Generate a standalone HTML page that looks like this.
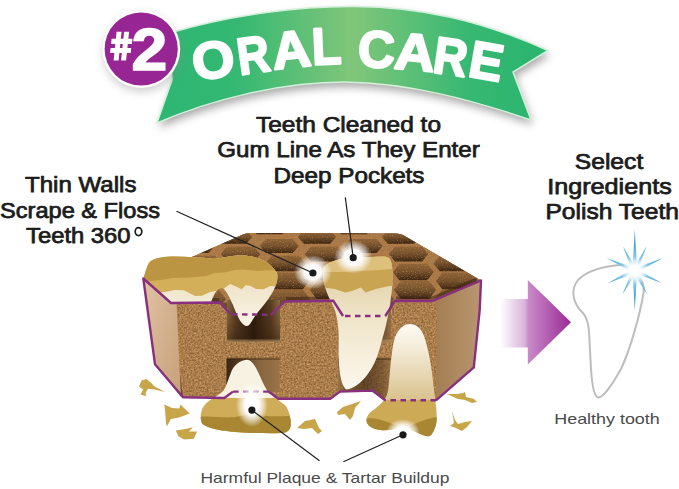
<!DOCTYPE html>
<html><head><meta charset="utf-8">
<style>
html,body{margin:0;padding:0;background:#fff;width:679px;height:489px;overflow:hidden}
svg{display:block}
.t{font-family:"Liberation Sans",sans-serif;font-weight:normal;fill:#1c1c1c;stroke:#1c1c1c;stroke-width:0.75;font-size:21.5px}
.s{font-family:"Liberation Sans",sans-serif;font-weight:normal;fill:#4a4a4a;font-size:14.5px}
.bn{font-family:"Liberation Sans",sans-serif;font-weight:bold;fill:#fff;font-size:52px}
</style></head>
<body>
<svg width="679" height="489" viewBox="0 0 679 489">
<defs>
  <linearGradient id="gBan" x1="157" y1="0" x2="548" y2="0" gradientUnits="userSpaceOnUse">
    <stop offset="0" stop-color="#2db673"/>
    <stop offset="0.2" stop-color="#34b872"/>
    <stop offset="0.5" stop-color="#80c67a"/>
    <stop offset="0.8" stop-color="#36b872"/>
    <stop offset="1" stop-color="#2ab46e"/>
  </linearGradient>
  <filter id="fShadow" x="-20%" y="-20%" width="140%" height="160%">
    <feGaussianBlur stdDeviation="4"/>
  </filter>
  <filter id="fBlur2" x="-50%" y="-50%" width="200%" height="200%">
    <feGaussianBlur stdDeviation="2"/>
  </filter>
  <filter id="fBlur1" x="-50%" y="-50%" width="200%" height="200%">
    <feGaussianBlur stdDeviation="1"/>
  </filter>
  <filter id="fGlow" x="-100%" y="-100%" width="300%" height="300%">
    <feGaussianBlur stdDeviation="5"/>
  </filter>
  <filter id="texFront" x="0" y="0" width="100%" height="100%" color-interpolation-filters="sRGB">
    <feTurbulence type="fractalNoise" baseFrequency="0.55" numOctaves="3" seed="4"/>
    <feColorMatrix type="matrix" values="0.45 0 0 0 0.442  0.38 0 0 0 0.30  0.3 0 0 0 0.144  0 0 0 0 1"/>
  </filter>
  <filter id="speckLight" x="0" y="0" width="100%" height="100%" color-interpolation-filters="sRGB">
    <feTurbulence type="fractalNoise" baseFrequency="0.8" numOctaves="2" seed="11"/>
    <feColorMatrix type="matrix" values="0 0 0 0 0.85  0 0 0 0 0.68  0 0 0 0 0.45  3 0 0 0 -1.7"/>
  </filter>
  <linearGradient id="gArrow" x1="500" y1="0" x2="571" y2="0" gradientUnits="userSpaceOnUse">
    <stop offset="0" stop-color="#ffffff"/>
    <stop offset="0.35" stop-color="#d9b3d9"/>
    <stop offset="0.4" stop-color="#c88ac8"/>
    <stop offset="1" stop-color="#9a2a96"/>
  </linearGradient>
  <linearGradient id="gRoot" x1="0" y1="0" x2="0" y2="1">
    <stop offset="0" stop-color="#dcc796"/>
    <stop offset="0.45" stop-color="#efe4c8"/>
    <stop offset="1" stop-color="#fdf9ef"/>
  </linearGradient>
  <linearGradient id="gRootUp" x1="0" y1="0" x2="0" y2="1">
    <stop offset="0" stop-color="#fefcf6"/>
    <stop offset="0.35" stop-color="#f4ecd8"/>
    <stop offset="1" stop-color="#d8c08a"/>
  </linearGradient>
  <linearGradient id="gCream" x1="0" y1="0" x2="0" y2="1">
    <stop offset="0" stop-color="#e6d6b0"/>
    <stop offset="1" stop-color="#fbf6ea"/>
  </linearGradient>
  <linearGradient id="gLeftFace" x1="0" y1="0" x2="1" y2="1">
    <stop offset="0" stop-color="#e0c2a4"/>
    <stop offset="1" stop-color="#c6a078"/>
  </linearGradient>
  <linearGradient id="gRightFace" x1="0" y1="0" x2="1" y2="0">
    <stop offset="0" stop-color="#a37c50"/>
    <stop offset="1" stop-color="#b89670"/>
  </linearGradient>
  <radialGradient id="gWhiteGlow">
    <stop offset="0" stop-color="#ffffff" stop-opacity="1"/>
    <stop offset="0.45" stop-color="#ffffff" stop-opacity="0.97"/>
    <stop offset="0.72" stop-color="#ffffff" stop-opacity="0.55"/>
    <stop offset="1" stop-color="#ffffff" stop-opacity="0"/>
  </radialGradient>
  <radialGradient id="gSpark">
    <stop offset="0" stop-color="#ffffff" stop-opacity="1"/>
    <stop offset="0.4" stop-color="#ffffff" stop-opacity="0.9"/>
    <stop offset="1" stop-color="#ffffff" stop-opacity="0"/>
  </radialGradient>
  <linearGradient id="gRay" x1="0" y1="0" x2="1" y2="0">
    <stop offset="0" stop-color="#8fd0ee"/>
    <stop offset="1" stop-color="#2f96cc"/>
  </linearGradient>
</defs>
<defs><linearGradient id="gCell" x1="0" y1="0" x2="0" y2="1"><stop offset="0" stop-color="#916437"/><stop offset="0.5" stop-color="#74502c"/><stop offset="1" stop-color="#3c2410"/></linearGradient></defs><g id="banner">
  <path d="M157 123 L172 80 L170 33 C230 15 300 6 355 6.5 C420 7 480 20 548 50.5 L513 72 L531 120 C472 100 410 83 345 82 C280 82 210 100 157 123 Z" fill="#707070" opacity="0.6" transform="translate(2,5)" filter="url(#fShadow)"/>
  <path d="M157 123 L172 80 L170 33 C230 15 300 6 355 6.5 C420 7 480 20 548 50.5 L513 72 L531 120 C472 100 410 83 345 82 C280 82 210 100 157 123 Z" fill="url(#gBan)" stroke="#d2f0da" stroke-width="1.5"/>
  <g class="bn" stroke="#fff" stroke-width="2.2" stroke-linejoin="round">
    <text transform="translate(213,59) rotate(-9) scale(1.05,1)" text-anchor="middle" dy="19">O</text>
    <text transform="translate(253,54) rotate(-8) scale(0.86,1)" text-anchor="middle" dy="19">R</text>
    <text transform="translate(291,48.5) rotate(-6) scale(1.03,1)" text-anchor="middle" dy="19">A</text>
    <text transform="translate(326.5,45) rotate(-2.5) scale(0.93,1)" text-anchor="middle" dy="19">L</text>
    <text transform="translate(376.5,48.5) rotate(2) scale(0.98,1)" text-anchor="middle" dy="19">C</text>
    <text transform="translate(415,51) rotate(5) scale(1.08,1)" text-anchor="middle" dy="19">A</text>
    <text transform="translate(451,55.75) rotate(8) scale(0.9,1)" text-anchor="middle" dy="19">R</text>
    <text transform="translate(486.5,60.25) rotate(10) scale(0.97,1)" text-anchor="middle" dy="19">E</text>
  </g>
  <circle cx="142" cy="53" r="39" fill="#888" opacity="0.4" filter="url(#fShadow)"/>
  <circle cx="141.2" cy="49" r="39" fill="#ffffff"/>
  <circle cx="141.2" cy="49" r="36.6" fill="#982594"/>
  <g fill="#fff">
    <path d="M116.6 31.8 L121.6 31.8 L118.6 60.4 L113.6 60.4 Z"/>
    <path d="M124.1 31.8 L129.1 31.8 L126.1 60.4 L121.1 60.4 Z"/>
    <path d="M111.6 38.8 L132.4 38.8 L131.9 43.9 L111.1 43.9 Z"/>
    <path d="M110.6 48.1 L131.2 48.1 L130.7 53 L110.1 53 Z"/>
  </g>
  <text transform="translate(149.3,70) scale(1.07,1)" class="bn" style="font-size:60px" stroke="#fff" stroke-width="1.6" text-anchor="middle">2</text>
</g>
<text class="t" x="348.5" y="131.6" text-anchor="middle" textLength="185" lengthAdjust="spacingAndGlyphs">Teeth Cleaned to</text>
<text class="t" x="348.5" y="157.4" text-anchor="middle" textLength="262.5" lengthAdjust="spacingAndGlyphs">Gum Line As They Enter</text>
<text class="t" x="349" y="183.2" text-anchor="middle" textLength="151" lengthAdjust="spacingAndGlyphs">Deep Pockets</text>
<text class="t" x="80.75" y="192" text-anchor="middle" textLength="111.5" lengthAdjust="spacingAndGlyphs">Thin Walls</text>
<text class="t" x="80" y="217.5" text-anchor="middle" textLength="160" lengthAdjust="spacingAndGlyphs">Scrape &amp; Floss</text>
<text class="t" x="78.3" y="242.8" text-anchor="middle" textLength="104.5" lengthAdjust="spacingAndGlyphs">Teeth 360</text>
<ellipse cx="138.5" cy="231.6" rx="3.3" ry="4" fill="none" stroke="#1c1c1c" stroke-width="1.7"/>
<text class="t" x="609" y="168.5" text-anchor="middle" textLength="68.5" lengthAdjust="spacingAndGlyphs">Select</text>
<text class="t" x="609.5" y="194.4" text-anchor="middle" textLength="124.5" lengthAdjust="spacingAndGlyphs">Ingredients</text>
<text class="t" x="612.2" y="219.4" text-anchor="middle" textLength="133.5" lengthAdjust="spacingAndGlyphs">Polish Teeth</text>
<text class="s" x="607" y="423.7" text-anchor="middle" textLength="105.5" lengthAdjust="spacingAndGlyphs">Healthy tooth</text>
<text class="s" x="325" y="483.4" text-anchor="middle" textLength="249" lengthAdjust="spacingAndGlyphs">Harmful Plaque &amp; Tartar Buildup</text>
<g id="chew">
  <!-- base hull -->
  <path d="M143.3 278.5 L155 364.2 L183 397.2 L224.3 398 L233 391.6 L268.6 391.6 L278.3 398.7 L330.2 398.7 L340 391.6 L372.3 390.6 L385.3 400.3 L437 400.3 L473.8 367.4 L481 280.4 L403 235 Q400 233.5 396 233.5 L250 233 Q246 233 243 234.5 Z" fill="#6e4c2c"/>
  <!-- top surface -->
  <path id="topSurf" d="M143.3 278.5 L171 303 L432.5 301 L481 280.4 L403 235 Q400 233.5 396 233.5 L250 233 Q246 233 243 234.5 Z" fill="#aa7846"/>
  <clipPath id="cTop"><path d="M143.3 278.5 L171 303 L432.5 301 L481 280.4 L403 235 Q400 233.5 396 233.5 L250 233 Q246 233 243 234.5 Z"/></clipPath>
  <g clip-path="url(#cTop)">
    <path d="M129.9 237.0 L136.0 230.3 L162.0 230.3 L168.1 237.0 L162.0 243.7 L136.0 243.7Z" fill="url(#gCell)"/>
<path d="M136.8 254.0 L143.1 246.6 L170.0 246.6 L176.3 254.0 L170.0 261.4 L143.1 261.4Z" fill="url(#gCell)"/>
<path d="M141.0 272.0 L147.5 263.8 L175.2 263.8 L181.8 272.0 L175.2 280.2 L147.5 280.2Z" fill="url(#gCell)"/>
<path d="M142.0 290.0 L148.7 281.0 L177.3 281.0 L184.0 290.0 L177.3 299.0 L148.7 299.0Z" fill="url(#gCell)"/>
<path d="M213.9 237.0 L220.0 230.3 L246.0 230.3 L252.1 237.0 L246.0 243.7 L220.0 243.7Z" fill="url(#gCell)"/>
<path d="M220.8 254.0 L227.1 246.6 L254.0 246.6 L260.3 254.0 L254.0 261.4 L227.1 261.4Z" fill="url(#gCell)"/>
<path d="M225.0 272.0 L231.5 263.8 L259.2 263.8 L265.8 272.0 L259.2 280.2 L231.5 280.2Z" fill="url(#gCell)"/>
<path d="M226.0 290.0 L232.7 281.0 L261.3 281.0 L268.0 290.0 L261.3 299.0 L232.7 299.0Z" fill="url(#gCell)"/>
<path d="M297.9 237.0 L304.0 230.3 L330.0 230.3 L336.1 237.0 L330.0 243.7 L304.0 243.7Z" fill="url(#gCell)"/>
<path d="M304.8 254.0 L311.1 246.6 L338.0 246.6 L344.3 254.0 L338.0 261.4 L311.1 261.4Z" fill="url(#gCell)"/>
<path d="M309.0 272.0 L315.5 263.8 L343.2 263.8 L349.8 272.0 L343.2 280.2 L315.5 280.2Z" fill="url(#gCell)"/>
<path d="M310.0 290.0 L316.7 281.0 L345.3 281.0 L352.0 290.0 L345.3 299.0 L316.7 299.0Z" fill="url(#gCell)"/>
<path d="M381.9 237.0 L388.0 230.3 L414.0 230.3 L420.1 237.0 L414.0 243.7 L388.0 243.7Z" fill="url(#gCell)"/>
<path d="M388.8 254.0 L395.1 246.6 L422.0 246.6 L428.3 254.0 L422.0 261.4 L395.1 261.4Z" fill="url(#gCell)"/>
<path d="M393.0 272.0 L399.5 263.8 L427.2 263.8 L433.8 272.0 L427.2 280.2 L399.5 280.2Z" fill="url(#gCell)"/>
<path d="M394.0 290.0 L400.7 281.0 L429.3 281.0 L436.0 290.0 L429.3 299.0 L400.7 299.0Z" fill="url(#gCell)"/>
<path d="M465.9 237.0 L472.0 230.3 L498.0 230.3 L504.1 237.0 L498.0 243.7 L472.0 243.7Z" fill="url(#gCell)"/>
<path d="M472.8 254.0 L479.1 246.6 L506.0 246.6 L512.3 254.0 L506.0 261.4 L479.1 261.4Z" fill="url(#gCell)"/>
<path d="M477.0 272.0 L483.5 263.8 L511.2 263.8 L517.8 272.0 L511.2 280.2 L483.5 280.2Z" fill="url(#gCell)"/>
<path d="M478.0 290.0 L484.7 281.0 L513.3 281.0 L520.0 290.0 L513.3 299.0 L484.7 299.0Z" fill="url(#gCell)"/>
<path d="M83.0 228.0 L89.0 221.7 L114.6 221.7 L120.7 228.0 L114.6 234.3 L89.0 234.3Z" fill="url(#gCell)"/>
<path d="M91.9 246.0 L98.1 238.9 L124.6 238.9 L130.8 246.0 L124.6 253.1 L98.1 253.1Z" fill="url(#gCell)"/>
<path d="M97.4 263.5 L103.9 255.7 L131.1 255.7 L137.6 263.5 L131.1 271.3 L103.9 271.3Z" fill="url(#gCell)"/>
<path d="M99.9 281.0 L106.5 272.4 L134.7 272.4 L141.3 281.0 L134.7 289.6 L106.5 289.6Z" fill="url(#gCell)"/>
<path d="M99.3 299.0 L106.1 289.6 L135.1 289.6 L141.9 299.0 L135.1 308.4 L106.1 308.4Z" fill="url(#gCell)"/>
<path d="M167.0 228.0 L173.0 221.7 L198.6 221.7 L204.7 228.0 L198.6 234.3 L173.0 234.3Z" fill="url(#gCell)"/>
<path d="M175.9 246.0 L182.1 238.9 L208.6 238.9 L214.8 246.0 L208.6 253.1 L182.1 253.1Z" fill="url(#gCell)"/>
<path d="M181.4 263.5 L187.9 255.7 L215.1 255.7 L221.6 263.5 L215.1 271.3 L187.9 271.3Z" fill="url(#gCell)"/>
<path d="M183.9 281.0 L190.5 272.4 L218.7 272.4 L225.3 281.0 L218.7 289.6 L190.5 289.6Z" fill="url(#gCell)"/>
<path d="M183.3 299.0 L190.1 289.6 L219.1 289.6 L225.9 299.0 L219.1 308.4 L190.1 308.4Z" fill="url(#gCell)"/>
<path d="M251.0 228.0 L257.0 221.7 L282.6 221.7 L288.7 228.0 L282.6 234.3 L257.0 234.3Z" fill="url(#gCell)"/>
<path d="M259.9 246.0 L266.1 238.9 L292.6 238.9 L298.8 246.0 L292.6 253.1 L266.1 253.1Z" fill="url(#gCell)"/>
<path d="M265.4 263.5 L271.9 255.7 L299.1 255.7 L305.6 263.5 L299.1 271.3 L271.9 271.3Z" fill="url(#gCell)"/>
<path d="M267.9 281.0 L274.5 272.4 L302.7 272.4 L309.3 281.0 L302.7 289.6 L274.5 289.6Z" fill="url(#gCell)"/>
<path d="M267.3 299.0 L274.1 289.6 L303.1 289.6 L309.9 299.0 L303.1 308.4 L274.1 308.4Z" fill="url(#gCell)"/>
<path d="M335.0 228.0 L341.0 221.7 L366.6 221.7 L372.7 228.0 L366.6 234.3 L341.0 234.3Z" fill="url(#gCell)"/>
<path d="M343.9 246.0 L350.1 238.9 L376.6 238.9 L382.8 246.0 L376.6 253.1 L350.1 253.1Z" fill="url(#gCell)"/>
<path d="M349.4 263.5 L355.9 255.7 L383.1 255.7 L389.6 263.5 L383.1 271.3 L355.9 271.3Z" fill="url(#gCell)"/>
<path d="M351.9 281.0 L358.5 272.4 L386.7 272.4 L393.3 281.0 L386.7 289.6 L358.5 289.6Z" fill="url(#gCell)"/>
<path d="M351.3 299.0 L358.1 289.6 L387.1 289.6 L393.9 299.0 L387.1 308.4 L358.1 308.4Z" fill="url(#gCell)"/>
<path d="M419.0 228.0 L425.0 221.7 L450.6 221.7 L456.7 228.0 L450.6 234.3 L425.0 234.3Z" fill="url(#gCell)"/>
<path d="M427.9 246.0 L434.1 238.9 L460.6 238.9 L466.8 246.0 L460.6 253.1 L434.1 253.1Z" fill="url(#gCell)"/>
<path d="M433.4 263.5 L439.9 255.7 L467.1 255.7 L473.6 263.5 L467.1 271.3 L439.9 271.3Z" fill="url(#gCell)"/>
<path d="M435.9 281.0 L442.5 272.4 L470.7 272.4 L477.3 281.0 L470.7 289.6 L442.5 289.6Z" fill="url(#gCell)"/>
<path d="M435.3 299.0 L442.1 289.6 L471.1 289.6 L477.9 299.0 L471.1 308.4 L442.1 308.4Z" fill="url(#gCell)"/>
    <rect x="140" y="230" width="345" height="75" filter="url(#speckLight)" opacity="0.5"/>
  </g>
  <!-- front face -->
  <clipPath id="cFront"><path d="M171 303 L220 302.5 L230 314 L271 314.8 L284.8 301.5 L333.4 300.8 L343 316 L385.3 316 L395 300.8 L437 301 L437 400.3 L385.3 400.3 L372.3 390.6 L340 391.6 L330.2 398.7 L278.3 398.7 L268.6 391.6 L233 391.6 L224.3 398 L183 397.2 Z"/></clipPath>
  <g clip-path="url(#cFront)">
    <rect x="171" y="300" width="270" height="102" filter="url(#texFront)"/>
  </g>
  <!-- slots -->
  <linearGradient id="gSlotH" x1="0" y1="0" x2="1" y2="0">
    <stop offset="0" stop-color="#8c6a42"/><stop offset="0.16" stop-color="#5e4024"/><stop offset="0.5" stop-color="#2c1b0c"/><stop offset="0.84" stop-color="#5e4024"/><stop offset="1" stop-color="#8c6a42"/>
  </linearGradient>
  <linearGradient id="gSlotV" x1="0" y1="0" x2="0" y2="1">
    <stop offset="0" stop-color="#2a1a0a" stop-opacity="0"/><stop offset="0.55" stop-color="#2a1a0a" stop-opacity="0.2"/><stop offset="1" stop-color="#2a1a0a" stop-opacity="0.55"/>
  </linearGradient>
  <linearGradient id="gSlot2" x1="0" y1="0" x2="1" y2="0">
    <stop offset="0" stop-color="#3a2614"/><stop offset="0.3" stop-color="#5a3e22"/><stop offset="0.6" stop-color="#86643e"/><stop offset="1" stop-color="#9a7448"/>
  </linearGradient>
  <rect x="227" y="300" width="53" height="41.5" fill="url(#gSlotH)"/>
  <rect x="227" y="300" width="53" height="41.5" fill="url(#gSlotV)"/>
  <rect x="226.5" y="358.5" width="53" height="33.5" fill="url(#gSlot2)"/>
  <rect x="338" y="300" width="53" height="42" fill="url(#gSlotH)" opacity="0.75"/>
  <path d="M338 358.5 L391 358.5 L391 400 L385.3 400.3 L372.3 390.6 L340 391.6 L338 392 Z" fill="url(#gSlotH)" opacity="0.6"/>
<g stroke="#3a2414" stroke-width="3.2" opacity="0.55" fill="none">
  <path d="M173 300 L219 299.6"/>
  <path d="M286 298.6 L332 298"/>
  <path d="M396 298 L432 298.2 L477 279"/>
</g>
<g fill="#caa478" opacity="0.45">
  <rect x="227" y="339.5" width="53" height="2.5"/>
  <rect x="338" y="339.5" width="53" height="2.5"/>
</g>
<g fill="#2e1c0c" opacity="0.35">
  <rect x="227" y="357.5" width="53" height="2.5"/>
  <rect x="338" y="357.5" width="53" height="2.5"/>
</g>
  <!-- left face -->
  <path d="M143.3 278.5 L171 303 L176.5 303 L181 397.2 L155 364.2 Z" fill="url(#gLeftFace)"/>
  <!-- right face -->
  <path d="M432.5 301 L481 280.4 L479.7 310 L473.8 367.4 L436 400.3 L437 301 Z" fill="url(#gRightFace)"/>
</g>
<g id="teeth">
  <!-- tooth 1 -->
  <clipPath id="cT1"><path d="M143.3 278.5 C145 274 146 268 149 263 C152 259 160 257 172 256.6 C185 256.5 200 257.5 213 258.7 C222 259 228 256 233 256 C250 254 268 258 277 273 C280 285 268 300 258 312 C252 320 250 326 247 326 C242 326 238 318 233 305 C229 296 225 288 221.7 288 C217 288 213 296 211 302.5 L171 303 Z"/></clipPath>
  <g clip-path="url(#cT1)">
    <rect x="140" y="250" width="145" height="80" fill="url(#gCream)"/>
    <path d="M140 250 L285 250 L285 287 L270 286 L263.7 289.2 L256 289 L250.4 285.9 L246 285 L241.6 289.2 L235 285.9 L230 284 L222 290 L210 292 L201.9 295.8 L195 296 L184 290.3 L175 290 L162 292.5 L140 290 Z" fill="#d4af5a"/>
    <path d="M140 250 L285 250 L285 271 L272.5 270 L258 271 L243.8 269.5 L235 270 L224 272.5 L215 273 L206 276 L190 277.5 L173 278 L160 280 L140 282 Z" fill="#bb9542"/>
  </g>
  <!-- tooth 2 -->
  <clipPath id="cT2"><path d="M322.7 271.7 C322 262 340 258 357.6 257.5 C372 257 385 255 389 258 C394 263 393 285 391 297 C389 315 384 335 378 354 C373 370 360 388 346.5 389.5 C339 385 338.6 360 338.6 344.8 C339 330 338 315 332 303.5 C327 294 323 284 322.7 271.7 Z"/></clipPath>
  <g clip-path="url(#cT2)">
    <rect x="315" y="250" width="85" height="145" fill="url(#gRoot)"/>
    <path d="M315 250 L400 250 L400 286 L389 286 L376 289 L365.6 292.4 L360.8 287.6 L352 291 L345 292.4 L335 289 L322.7 287.6 L315 287 Z" fill="#c9a452"/>
    <path d="M315 250 L400 250 L400 268 L380 270 L360 271 L340 272 L315 272 Z" fill="#dcc07c"/>
  </g>
  <!-- tooth 3 -->
  <clipPath id="cT3"><path d="M247 359.7 C251 359.7 255 365 258.3 372.6 C261 378 263 384 267.6 391.2 C272 396 280 401 285.2 405.2 C289 410 291 418 290.8 425 C290.5 430 287 433 281.6 433 C270 433.5 260 433 250.2 433 C230 432 210 430 202.4 424 C199 418 201 408 206 403.4 C212 398 220 395 224 390 C227 385 229 377 232 370 C236 363 242 359.7 247 359.7 Z"/></clipPath>
  <g clip-path="url(#cT3)">
    <rect x="195" y="355" width="100" height="85" fill="#f8f2e2"/>
    <path d="M195 398 L300 398 L300 440 L195 440 Z" fill="#cfac58"/>
    <path d="M195 418 C210 414 225 420 240 416 C255 412 270 420 300 414 L300 440 L195 440 Z" fill="#a98632"/>
  </g>
  <!-- tooth 4 -->
  <clipPath id="cT4"><path d="M409.9 323.9 C416 324 421 328 424 336 C429 350 432 370 433.5 385 C435 398 437 410 436.7 420 C436 428 432 436 429 436.3 C424 436 418 433 406 427.4 C398 428 390 431 380 430 C372 429 366 425 366.5 419.7 C367 414 372 411 376 408 C382 403 387 398 388.2 390 C390 375 391 350 395 337 C399 328 404 324 409.9 323.9 Z"/></clipPath>
  <g clip-path="url(#cT4)">
    <rect x="360" y="320" width="85" height="82" fill="url(#gRootUp)"/>
    <rect x="360" y="400" width="85" height="40" fill="#cdaa56"/>
    <path d="M360 420 C375 414 390 424 405 428 C415 424 425 418 445 416 L445 440 L360 440 Z" fill="#a98632"/>
  </g>
</g>
<g fill="none" stroke="#88307f" stroke-width="2.4" stroke-linejoin="round">
  <path d="M230 314 L220 302.5 L171 303 L143.3 278.5 L155 364.2 L183 397.2 L224.3 398 L233 391.6"/>
  <path d="M271 314.8 L284.8 301.5 L333.4 300.8 L343 316"/>
  <path d="M385.3 316 L395 300.8 L432.5 301 L481 280.4 L479.7 310 L473.8 367.4 L436 400.3"/>
  <path d="M385.3 400.3 L372.3 390.6 L340 391.6 L330.2 398.7 L278.3 398.7 L268.6 391.6"/>
  <g stroke-dasharray="5.5 4.5" stroke-width="2.4">
    <path d="M232 314.2 L271 314.8"/>
    <path d="M345 316 L385.3 316"/>
    <path d="M436 400.3 L385.3 400.3"/>
    <path d="M268.6 391.6 L233 391.6"/>
  </g>
</g>
<g fill="#c9a54a">
  <path d="M141.5 380.6 L146.4 379 L150.5 382.3 L154.5 386.4 L165.2 392.1 L154.5 389.6 L148 388.8 L145.5 392.9 L146.4 396.2 L140.6 394.5 L143.1 389.6 L139 386.4 Z"/>
  <path d="M164.4 404.4 L172 408 L179.1 408.5 L180.7 404.4 L184 408 L189.7 413.4 L179.1 417.5 L170.9 419.1 L166.8 426.5 L166 422.4 L165.2 412.6 Z"/>
  <path d="M175.8 430.6 L185.6 428.9 L193 427.3 L188.9 431.4 L197.1 431.4 L193.8 438.7 L184 439.6 L178.3 436.3 Z"/>
  <path d="M297 428 L305 421 L315 419 L319 428 L322 431 L318 434 L312 428 L304 429 Z"/>
  <path d="M337 412 L343 407 L352 404 L361 401 L355 408 L353 416 L350 420 L345 414 L338 415 Z"/>
  <path d="M447 394 L457 394 L463 393 L465 392 L466 397 L474 399 L477 402 L472 403 L465 400 L458 399 Z"/>
  <path d="M452 411 L455 420 L458 424 L465 422 L472 421 L467 427 L462 431 L456 428 L450 426 L454 423 Z"/>
</g>
<!-- callouts -->
<g>
  <ellipse cx="312.9" cy="272" rx="19" ry="17" fill="url(#gWhiteGlow)"/>
  <ellipse cx="353.2" cy="257" rx="19" ry="17" fill="url(#gWhiteGlow)"/>
  <ellipse cx="251.9" cy="405" rx="16" ry="22" fill="url(#gWhiteGlow)"/>
  <ellipse cx="403" cy="432" rx="17" ry="13" fill="url(#gWhiteGlow)"/>
  <g stroke="#222" stroke-width="1.2">
    <line x1="176.5" y1="211.2" x2="312.9" y2="273"/>
    <line x1="345.3" y1="197.4" x2="353.2" y2="257.7"/>
    <line x1="251.9" y1="410.1" x2="319.5" y2="460.7"/>
    <line x1="403" y1="434.8" x2="343.4" y2="461.8"/>
  </g>
  <g fill="#1a1a1a">
    <circle cx="312.9" cy="273" r="3.6"/>
    <circle cx="353.2" cy="257.7" r="3.6"/>
    <circle cx="251.9" cy="410.1" r="3.6"/>
    <circle cx="403" cy="434.8" r="3.6"/>
  </g>
</g>
<path d="M500 299 L527.8 299 L527.8 280 L571 322.2 L527.8 364.5 L527.8 347.6 L500 347.6 Z" fill="url(#gArrow)"/>
<path d="M622.7 264.8 C605 266 588 270 578 280 C570 290 573 303 582 312 C590 320 589 334 590 350 C591 372 592 393 597 397 C602 400 612 385 621 369 C630 350 640 315 643.5 293 C645 284 640 278 638 276" fill="none" stroke="#bdbdbd" stroke-width="2"/>
<radialGradient id="gRayR" cx="0" cy="0" r="41" gradientUnits="userSpaceOnUse"><stop offset="0" stop-color="#ffffff"/><stop offset="0.3" stop-color="#8ccbea"/><stop offset="0.6" stop-color="#45a9d8"/><stop offset="1" stop-color="#3a9fd2"/></radialGradient>
<g id="spark" transform="translate(634.8,270.6)">
  <path d="M2.40 0.00 L0.00 -41.00 L-2.40 -0.00Z" fill="url(#gRayR)"/>
<path d="M-2.40 0.00 L0.00 40.00 L2.40 -0.00Z" fill="url(#gRayR)"/>
<path d="M2.16 1.05 L11.84 -24.27 L-2.16 -1.05Z" fill="url(#gRayR)"/>
<path d="M2.16 -1.05 L-11.84 -24.27 L-2.16 1.05Z" fill="url(#gRayR)"/>
<path d="M0.98 2.19 L28.32 -12.61 L-0.98 -2.19Z" fill="url(#gRayR)"/>
<path d="M0.98 -2.19 L-28.32 -12.61 L-0.98 2.19Z" fill="url(#gRayR)"/>
<path d="M-1.01 2.18 L27.19 12.68 L1.01 -2.18Z" fill="url(#gRayR)"/>
<path d="M-1.01 -2.18 L-27.19 12.68 L1.01 2.18Z" fill="url(#gRayR)"/>
<path d="M-2.13 1.10 L12.43 23.97 L2.13 -1.10Z" fill="url(#gRayR)"/>
<path d="M-2.13 -1.10 L-12.43 23.97 L2.13 1.10Z" fill="url(#gRayR)"/>
  <circle r="14" fill="url(#gSpark)"/>
</g>
</svg>
</body></html>
